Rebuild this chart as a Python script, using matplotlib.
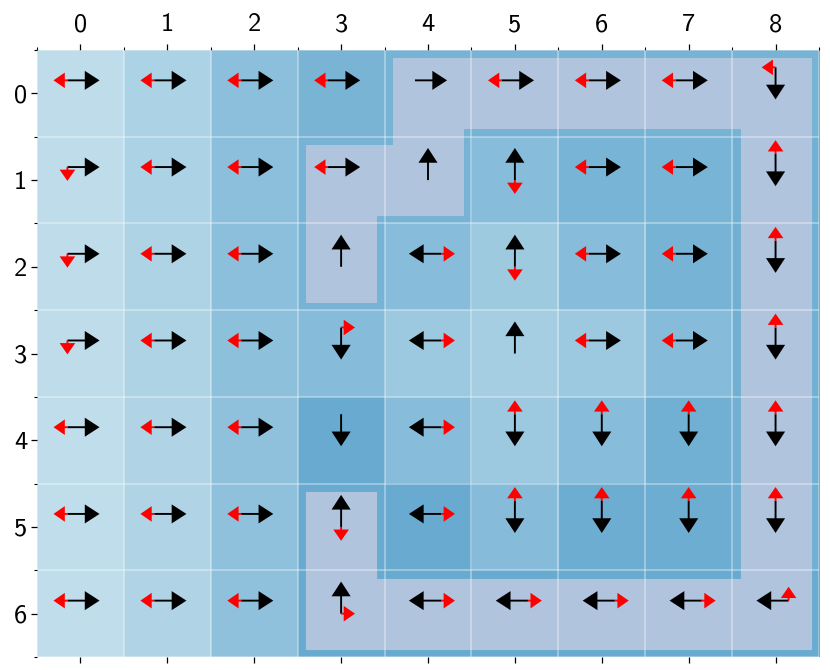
import matplotlib
matplotlib.use("Agg")
import matplotlib.pyplot as plt
from matplotlib.colors import LinearSegmentedColormap
import numpy as np

plt.rcParams['font.family'] = ['cmss10', 'DejaVu Sans']
plt.rcParams['axes.unicode_minus'] = False

cols = list(range(9))
rows = list(range(7))

# shade of each cell, 0 = lightest blue, 1 = darkest, rows from the top
values = np.array([
    [0.04, 0.23, 0.57, 0.77, 0.80, 0.80, 0.80, 0.80, 0.80],
    [0.04, 0.23, 0.57, 0.80, 0.80, 0.62, 0.78, 0.78, 0.85],
    [0.04, 0.21, 0.57, 0.80, 0.62, 0.38, 0.62, 0.79, 0.85],
    [0.04, 0.21, 0.56, 0.63, 0.40, 0.30, 0.40, 0.63, 0.85],
    [0.02, 0.19, 0.54, 0.94, 0.62, 0.40, 0.62, 0.85, 0.85],
    [0.02, 0.19, 0.54, 0.94, 0.94, 0.63, 0.90, 0.90, 0.85],
    [0.02, 0.19, 0.54, 0.94, 0.94, 0.94, 0.94, 0.94, 0.94],
])

# best action (black) and second action (red) per cell, "." = none
best = [
    "RRRRRRRRD",
    "RRRRUURRD",
    "RRRULURRD",
    "RRRDLURRD",
    "RRRDLDDDD",
    "RRRULDDDD",
    "RRRULLLLL",
]
second = [
    "LLLL.LLLL",
    "DLLL.DLLU",
    "DLL.RDLLU",
    "DLLRR.LLU",
    "LLL.RUUUU",
    "LLLDRUUUU",
    "LLLRRRRRU",
]

# highlighted route through the grid (column, row)
path_x = [3, 3, 4, 4, 8, 8, 3, 3]
path_y = [2, 1, 1, 0, 0, 6, 6, 5]

dirs = {"R": (1, 0), "L": (-1, 0), "U": (0, -1), "D": (0, 1)}

fig = plt.figure(figsize=(8.3, 6.7), dpi=100)
ax = fig.add_axes([37 / 830, 1 - 657 / 670, 782 / 830, 607 / 670])

cmap = LinearSegmentedColormap.from_list("cells", ["#c2dfec", "#64a8cf"])
ax.imshow(values, cmap=cmap, vmin=0, vmax=1, aspect="auto", zorder=0)

# route drawn as a thick line, 0.82 of a cell wide
cell_pts = (607 / 100) / len(rows) * 72
ax.plot(path_x, path_y, color="#b0c4de", lw=0.82 * cell_pts,
        solid_capstyle="projecting", solid_joinstyle="miter", zorder=2)

for r in rows:
    for c in cols:
        dx, dy = dirs[best[r][c]]
        px = c - 0.15 * dx
        py = r - 0.15 - 0.15 * dy
        ax.arrow(px, py, 0.37 * dx, 0.37 * dy, width=0.022, head_width=0.22,
                 head_length=0.17, length_includes_head=True, color="k",
                 lw=0, zorder=4)
        s = second[r][c]
        if s != ".":
            sx, sy = dirs[s]
            ax.arrow(px, py, 0.16 * sx, 0.16 * sy, width=0.022, head_width=0.18,
                     head_length=0.13, length_includes_head=True, color="red",
                     lw=0, zorder=5)

ax.set_xlim(-0.5, len(cols) - 0.5)
ax.set_ylim(len(rows) - 0.5, -0.5)

ax.set_xticks(cols)
ax.set_xticklabels([str(c) for c in cols])
ax.set_yticks(rows)
ax.set_yticklabels([str(r) for r in rows])
ax.set_xticks(np.arange(-0.5, len(cols)), minor=True)
ax.set_yticks(np.arange(-0.5, len(rows)), minor=True)

ax.tick_params(axis="x", which="major", top=True, bottom=True,
               labeltop=True, labelbottom=False, length=4, width=0.9,
               labelsize=19, pad=6)
ax.tick_params(axis="x", which="minor", top=True, bottom=False, length=2, width=0.8)
ax.tick_params(axis="y", which="major", left=True, right=False,
               length=4, width=0.9, labelsize=19, pad=3)
ax.tick_params(axis="y", which="minor", left=True, right=False, length=2, width=0.8)

ax.grid(which="minor", color="white", alpha=0.4, lw=1.2, zorder=3)
ax.grid(which="major", visible=False)
ax.set_axisbelow(False)
for sp in ax.spines.values():
    sp.set_visible(False)

fig.savefig("out.png", dpi=100)
